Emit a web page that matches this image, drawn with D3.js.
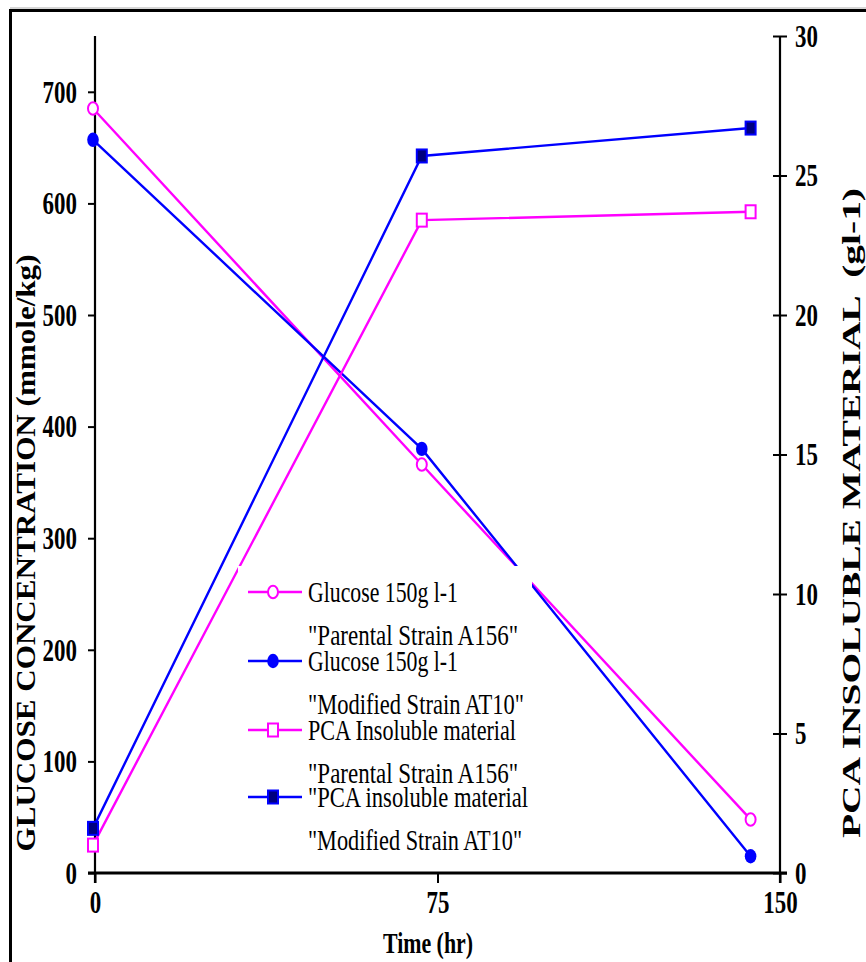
<!DOCTYPE html>
<html>
<head>
<meta charset="utf-8">
<script src="https://cdn.jsdelivr.net/npm/d3@7"></script>
<style>
  html, body { margin: 0; padding: 0; background: #fff; }
  svg { display: block; }
  text { font-family: "Liberation Serif", "Times New Roman", serif; fill: #000; }
</style>
</head>
<body>
<svg id="chart" width="866" height="962"></svg>
<script>
// Sampling times (hours)
const timeHours = [0, 72, 144];
// Glucose concentration, mmole/kg (left axis)
const glucoseParental = [685, 366, 48];
const glucoseModified = [657, 380, 15];
// PCA insoluble material, g/l (right axis)
const pcaParental = [1.0, 23.4, 23.7];
const pcaModified = [1.6, 25.7, 26.7];
// Axis ticks
const timeTicks = [0, 75, 150];
const glucoseTicks = [0, 100, 200, 300, 400, 500, 600, 700];
const pcaTicks = [0, 5, 10, 15, 20, 25, 30];

const legendEntries = [
  { line1: "Glucose 150g l-1", w1: 150, line2: "\"Parental Strain A156\"", w2: 210, color: "#ff00ff", marker: "circleOpen" },
  { line1: "Glucose 150g l-1", w1: 150, line2: "\"Modified Strain AT10\"", w2: 216, color: "#0000ff", marker: "circleFilled" },
  { line1: "PCA Insoluble material", w1: 208, line2: "\"Parental Strain A156\"", w2: 210, color: "#ff00ff", marker: "squareOpen" },
  { line1: "\"PCA insoluble material", w1: 220, line2: "\"Modified Strain AT10\"", w2: 214, color: "#0000ff", marker: "squareFilled" }
];

const svg = d3.select("#chart");

const x = d3.scaleLinear().domain([0, 150]).range([95, 780]);
const yL = d3.scaleLinear().domain([0, 750]).range([873, 36]);
const yR = d3.scaleLinear().domain([0, 30]).range([873, 36]);

// squeeze text horizontally (condensed serif look)
function squeeze(sel, k) {
  sel.each(function () {
    const len = this.getComputedTextLength();
    d3.select(this).attr("textLength", len * k).attr("lengthAdjust", "spacingAndGlyphs");
  });
}
function fitWidth(sel, w) {
  sel.attr("textLength", w).attr("lengthAdjust", "spacingAndGlyphs");
}

// outer frame
svg.append("line").attr("x1", 10).attr("x2", 866).attr("y1", 8).attr("y2", 8)
  .attr("stroke", "#c8c8c8").attr("stroke-width", 1.5);
svg.append("path").attr("d", "M10.5,962 V10.5 H866")
  .attr("fill", "none").attr("stroke", "#000").attr("stroke-width", 3);

// axes
const axisG = svg.append("g");
const tickFont = 31;
const leftAxis = d3.axisLeft(yL).tickValues(glucoseTicks).tickSize(7).tickFormat(d3.format("d"));
const gl = axisG.append("g").attr("transform", "translate(95,0)").call(leftAxis);
gl.select(".domain").attr("d", "M0,36 V883").attr("stroke-width", 2.2);
gl.selectAll(".tick line").attr("stroke-width", 2);
gl.selectAll(".tick text").attr("x", -18).attr("dy", "0.33em")
  .attr("font-size", tickFont).attr("font-weight", "bold").attr("font-family", "Liberation Serif");
squeeze(gl.selectAll(".tick text"), 0.74);

const rightAxis = d3.axisRight(yR).tickValues(pcaTicks).tickSize(7).tickFormat(d3.format("d"));
const gr = axisG.append("g").attr("transform", "translate(780,0)").call(rightAxis);
gr.select(".domain").attr("d", "M0,36 V883").attr("stroke-width", 2.2);
gr.selectAll(".tick line").attr("x1", -7).attr("stroke-width", 2);
gr.selectAll(".tick text").attr("x", 15).attr("dy", "0.33em")
  .attr("font-size", tickFont).attr("font-weight", "bold").attr("font-family", "Liberation Serif");
squeeze(gr.selectAll(".tick text"), 0.74);

const bottomAxis = d3.axisBottom(x).tickValues(timeTicks).tickSize(10).tickFormat(d3.format("d"));
const gb = axisG.append("g").attr("transform", "translate(0,873)").call(bottomAxis);
gb.select(".domain").attr("d", "M88,0 H787").attr("stroke-width", 3);
gb.selectAll(".tick line").attr("stroke-width", 2);
gb.selectAll(".tick text").attr("y", 30).attr("dy", "0.33em")
  .attr("font-size", tickFont).attr("font-weight", "bold").attr("font-family", "Liberation Serif");
squeeze(gb.selectAll(".tick text"), 0.74);
axisG.selectAll(".domain, .tick line").attr("stroke", "#000");
axisG.selectAll(".tick text").attr("fill", "#000");

// axis titles
const tx = svg.append("text").attr("x", 428).attr("y", 953).attr("text-anchor", "middle")
  .attr("font-size", 30).attr("font-weight", "bold").text("Time (hr)");
fitWidth(tx, 90);
const ty1 = svg.append("text").attr("transform", "translate(35,553) rotate(-90)")
  .attr("text-anchor", "middle").attr("font-size", 28).attr("font-weight", "bold")
  .text("GLUCOSE CONCENTRATION (mmole/kg)");
fitWidth(ty1, 597);
const ty2 = svg.append("text").attr("transform", "translate(860,513) rotate(-90)")
  .attr("text-anchor", "middle").attr("font-size", 26).attr("font-weight", "bold")
  .attr("xml:space", "preserve").text("PCA INSOLUBLE MATERIAL  (gl-1)");
fitWidth(ty2, 650);

// series
const series = [
  { values: glucoseParental, scale: yL, color: "#ff00ff", marker: "circleOpen" },
  { values: glucoseModified, scale: yL, color: "#0000ff", marker: "circleFilled" },
  { values: pcaParental, scale: yR, color: "#ff00ff", marker: "squareOpen" },
  { values: pcaModified, scale: yR, color: "#0000ff", marker: "squareFilled" }
];

const plot = svg.append("g");
series.forEach(s => {
  const pts = timeHours.map((t, i) => [x(t) - 2, s.scale(s.values[i])]);
  plot.append("path").attr("d", d3.line()(pts)).attr("fill", "none")
    .attr("stroke", s.color).attr("stroke-width", 2.4);
});

function drawMarker(g, type, cx, cy, color) {
  if (type === "circleOpen") {
    g.append("ellipse").attr("cx", cx).attr("cy", cy).attr("rx", 5).attr("ry", 6.2)
      .attr("fill", "#fff").attr("stroke", color).attr("stroke-width", 2);
  } else if (type === "circleFilled") {
    g.append("ellipse").attr("cx", cx).attr("cy", cy).attr("rx", 5.8).attr("ry", 7.2)
      .attr("fill", color);
  } else if (type === "squareOpen") {
    g.append("rect").attr("x", cx - 5).attr("y", cy - 6.5).attr("width", 10).attr("height", 13)
      .attr("fill", "#fff").attr("stroke", color).attr("stroke-width", 2);
  } else {
    g.append("rect").attr("x", cx - 5).attr("y", cy - 6.5).attr("width", 10).attr("height", 13)
      .attr("fill", "#000080").attr("stroke", color).attr("stroke-width", 2);
  }
}

// legend panel hides the lines behind it
const legend = svg.append("g");
legend.append("rect").attr("x", 238).attr("y", 566).attr("width", 294).attr("height", 292).attr("fill", "#fff");
const rowY = [592, 661, 730, 797];
legendEntries.forEach((e, i) => {
  const yy = rowY[i];
  legend.append("line").attr("x1", 248).attr("x2", 302).attr("y1", yy).attr("y2", yy)
    .attr("stroke", e.color).attr("stroke-width", 2.4);
  drawMarker(legend, e.marker, 273, yy, e.color);
  const t1 = legend.append("text").attr("x", 308).attr("y", yy + 10).attr("font-size", 30).text(e.line1);
  fitWidth(t1, e.w1);
  const t2 = legend.append("text").attr("x", 308).attr("y", yy + 53).attr("font-size", 30).text(e.line2);
  fitWidth(t2, e.w2);
});

// markers on top
series.forEach(s => {
  timeHours.forEach((t, i) => drawMarker(plot, s.marker, x(t) - 2, s.scale(s.values[i]), s.color));
});
</script>
</body>
</html>
